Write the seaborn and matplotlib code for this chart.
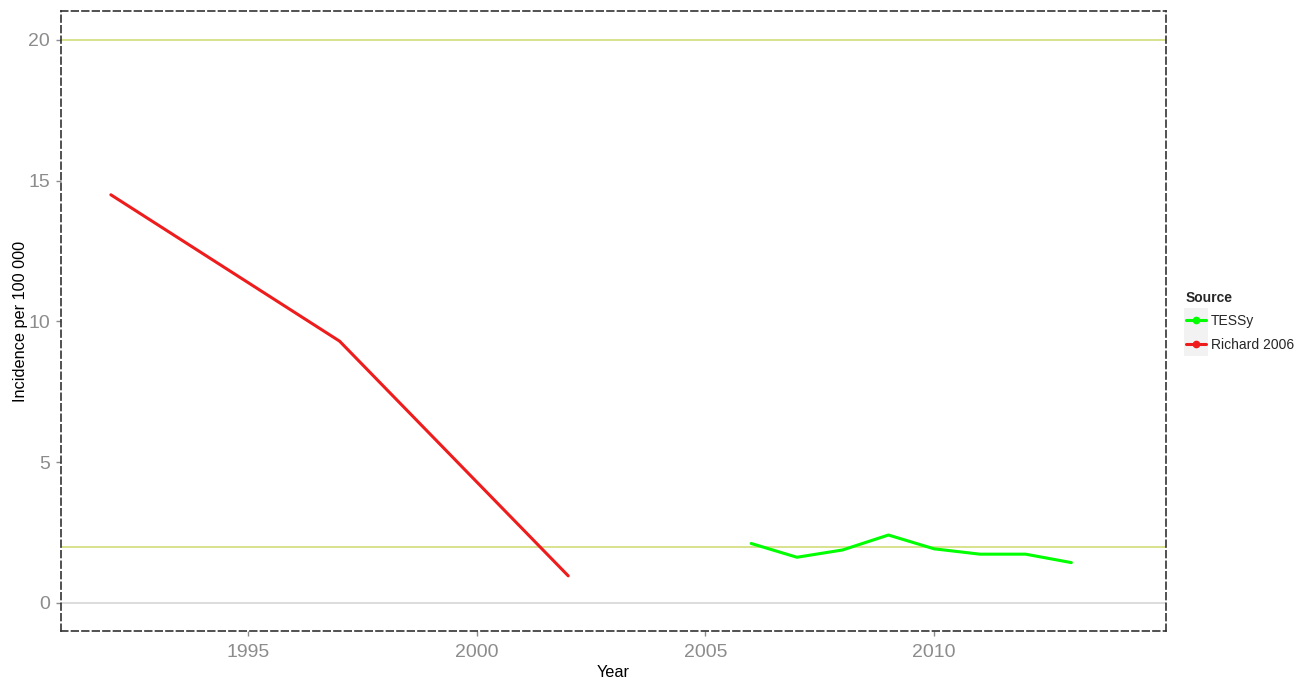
import matplotlib
matplotlib.use("Agg")
import matplotlib.pyplot as plt
import seaborn as sns
import pandas as pd
from matplotlib.lines import Line2D
from matplotlib.patches import Rectangle

# ---- data ----
richard_years = [1992, 1997, 2002]
richard_values = [14.5, 9.3, 0.96]
tessy_years = [2006, 2007, 2008, 2009, 2010, 2011, 2012, 2013]
tessy_values = [2.11, 1.62, 1.88, 2.41, 1.92, 1.73, 1.73, 1.43]
series_names = ["TESSy", "Richard 2006"]
series_colors = ["#00ff00", "#ee1c1c"]
ref_lines = [20, 2]
zero_line = 0
x_ticks = [1995, 2000, 2005, 2010]
y_ticks = [0, 5, 10, 15, 20]

df = pd.concat([
    pd.DataFrame({"Year": tessy_years, "Incidence": tessy_values, "Source": series_names[0]}),
    pd.DataFrame({"Year": richard_years, "Incidence": richard_values, "Source": series_names[1]}),
], ignore_index=True)

sns.set_theme(style="white")
plt.rcParams["font.family"] = ["Liberation Sans", "DejaVu Sans"]

fig = plt.figure(figsize=(13.07, 6.78), dpi=100)
ax = fig.add_axes([61 / 1307, 1 - 631 / 678, (1166 - 61) / 1307, (631 - 11) / 678])

for v in ref_lines:
    ax.axhline(v, color="#d6df84", lw=1.3, zorder=1)
ax.axhline(zero_line, color="#d9d9d9", lw=1.3, zorder=1)

sns.lineplot(data=df, x="Year", y="Incidence", hue="Source",
             palette=dict(zip(series_names, series_colors)),
             hue_order=series_names, lw=2.2, legend=False, ax=ax, zorder=3)

ax.set_xlim(1990.91, 2015.07)
ax.set_ylim(-1.0, 21.03)
ax.set_xticks(x_ticks)
ax.set_yticks(y_ticks)
ax.tick_params(axis="both", which="both", length=3.5, width=1, color="#8c8c8c",
               labelcolor="#8c8c8c", labelsize=14, bottom=True, left=True)
ax.tick_params(axis="x", pad=6)
ax.tick_params(axis="y", pad=4.5)
ax.set_xlabel("Year", fontsize=11.7, color="black", labelpad=3)
ax.set_ylabel("Incidence per 100 000", fontsize=11.7, color="black", labelpad=0)
ax.grid(False)
for s in ax.spines.values():
    s.set_visible(True)
    s.set_color("#333333")
    s.set_linestyle((0, (4, 2.3)))
    s.set_linewidth(1.2)

handles = [Line2D([0], [0], color=c, lw=2.2, marker="o", markersize=4.5)
           for c in series_colors]
leg = fig.legend(handles, series_names, title="Source", loc="upper left",
                 bbox_to_anchor=(1176 / 1307, 1 - 281 / 678), frameon=False,
                 fontsize=10, title_fontsize=10, handlelength=1.45,
                 handletextpad=0.35, labelspacing=0.68, borderpad=0.2,
                 alignment="left")
leg.get_title().set_fontweight("bold")

fig.canvas.draw()
renderer = fig.canvas.get_renderer()
for h in leg.legend_handles:
    bb = h.get_window_extent(renderer)
    cx = (bb.x0 + bb.x1) / 2
    cy = (bb.y0 + bb.y1) / 2
    w, hgt = 24, 24
    fig.patches.append(Rectangle(((cx - w / 2) / fig.bbox.width, (cy - hgt / 2) / fig.bbox.height),
                                 w / fig.bbox.width, hgt / fig.bbox.height,
                                 transform=fig.transFigure, facecolor="#f2f2f2",
                                 edgecolor="none", zorder=-1))

fig.savefig("out.png", dpi=100)
